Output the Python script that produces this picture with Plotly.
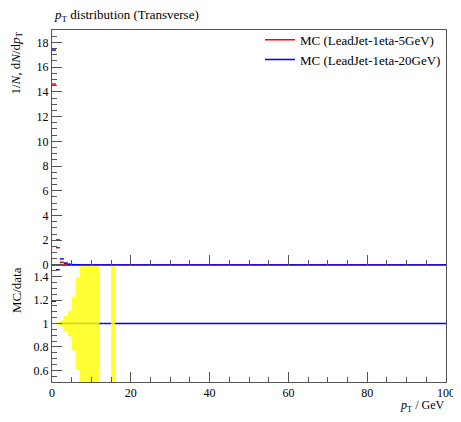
import plotly.graph_objects as go

# ---- data ----
bin_edges = [0, 1, 2, 3, 4, 5, 6, 7, 8, 9, 10, 11, 12, 13, 14, 15, 16, 100]
mc_5gev = [14.63, 1.40, 0.22, 0.08, 0.04, 0.02, 0.01, 0.01, 0.005, 0.005,
           0.004, 0.003, 0.0, 0.0, 0.0, 0.002, 0.0]
mc_20gev = [17.38, 2.02, 0.49, 0.16, 0.06, 0.03, 0.02, 0.01, 0.01, 0.008,
            0.005, 0.005, 0.003, 0.003, 0.002, 0.003, 0.001]
ratio_20gev = [1.19, 1.46, 1.0, 1.0, 1.0, 1.0, 1.0, 1.0, 1.0, 1.0,
               1.0, 1.0, 1.0, 1.0, 1.0, 1.0, 1.0]
band_halfwidth = [0.003, 0.01, 0.026, 0.065, 0.11, 0.23, 0.39, 1.0, 1.0, 1.0,
                  1.0, 1.0, None, None, None, 1.0, None]

x_ticks = [0, 20, 40, 60, 80, 100]
top_ticks = [0, 2, 4, 6, 8, 10, 12, 14, 16, 18]
ratio_ticks = [0.6, 0.8, 1.0, 1.2, 1.4]
ratio_tick_text = ["0.6", "0.8", "1", "1.2", "1.4"]

RED = "#ff0000"
BLUE = "#0000ff"
FONT = "Liberation Serif"
AXC = "#555555"

# page body adds an 8px margin; figure sized so the page fits the window exactly
W, H = 453, 406
ML, MR, MT, MB = 44, 15, 22, 32
PW = W - ML - MR
PH = H - MT - MB


def segments(edges, vals):
    xs, ys = [], []
    for i, v in enumerate(vals):
        if v is None:
            continue
        xs += [edges[i], edges[i + 1], None]
        ys += [v, v, None]
    return xs, ys


fig = go.Figure()

# main panel
x, y = segments(bin_edges, mc_5gev)
fig.add_trace(go.Scatter(x=x, y=y, mode="lines", line=dict(color=RED, width=1.5),
                         name="MC (LeadJet-1eta-5GeV)", xaxis="x2", yaxis="y2"))
x, y = segments(bin_edges, mc_20gev)
fig.add_trace(go.Scatter(x=x, y=y, mode="lines", line=dict(color=BLUE, width=1.5),
                         name="MC (LeadJet-1eta-20GeV)", xaxis="x2", yaxis="y2"))

# ratio panel
x, y = segments(bin_edges, ratio_20gev)
fig.add_trace(go.Scatter(x=x, y=y, mode="lines", line=dict(color=BLUE, width=1.5),
                         showlegend=False, xaxis="x", yaxis="y"))

# ratio band (reference uncertainty), drawn over the line
bx, by = [], []
for i, e in enumerate(band_halfwidth):
    if e is None:
        continue
    lo, hi = bin_edges[i], bin_edges[i + 1]
    bx += [lo, hi, hi, lo, lo, None]
    by += [1 - e, 1 - e, 1 + e, 1 + e, 1 - e, None]
fig.add_trace(go.Scatter(x=bx, y=by, mode="lines", fill="toself", line=dict(width=0),
                         fillcolor="rgba(255,255,0,0.8)", showlegend=False, hoverinfo="skip",
                         xaxis="x", yaxis="y"))

split = 117 / PH

common_axis = dict(showline=True, linecolor=AXC, linewidth=1, mirror=True,
                   ticks="inside", tickcolor=AXC, ticklen=10, tickwidth=1,
                   showgrid=False, zeroline=False, automargin=False,
                   tickfont=dict(family=FONT, size=12, color="black"))

fig.update_layout(
    width=W, height=H,
    margin=dict(l=ML, r=MR, t=MT, b=MB, autoexpand=False),
    paper_bgcolor="white", plot_bgcolor="white",
    font=dict(family=FONT, size=13, color="black"),
    xaxis=dict(domain=[0, 1], range=[0, 100], anchor="y", tickvals=x_ticks,
               minor=dict(ticks="inside", dtick=5, ticklen=5, tickcolor=AXC), **common_axis),
    xaxis2=dict(domain=[0, 1], range=[0, 100], anchor="y2", matches="x", tickvals=x_ticks,
                showticklabels=False,
                minor=dict(ticks="inside", dtick=5, ticklen=5, tickcolor=AXC), **common_axis),
    yaxis=dict(domain=[0, split], range=[0.5, 1.5], anchor="x", tickvals=ratio_ticks,
               ticktext=ratio_tick_text,
               minor=dict(ticks="inside", dtick=0.05, tick0=0.5, ticklen=5, tickcolor=AXC), **common_axis),
    yaxis2=dict(domain=[split, 1], range=[0, 19], anchor="x2", tickvals=top_ticks,
                minor=dict(ticks="inside", dtick=0.5, tick0=0, ticklen=5, tickcolor=AXC), **common_axis),
    legend=dict(x=1.0, xanchor="right", y=1.015, yanchor="top", bgcolor="rgba(0,0,0,0)",
                font=dict(family=FONT, size=13), tracegroupgap=0),
    annotations=[
        dict(text="<i>p</i><sub>T</sub> distribution (Transverse)", x=0, y=1 + 14 / PH,
             xref="paper", yref="paper", xanchor="left", yanchor="middle", showarrow=False,
             font=dict(family=FONT, size=13)),
        dict(text="1/<i>N</i>, d<i>N</i>/d<i>p</i><sub>T</sub>", x=-36 / PW, y=1,
             xref="paper", yref="paper", xanchor="center", yanchor="top", textangle=-90,
             showarrow=False, font=dict(family=FONT, size=13)),
        dict(text="MC/data", x=-36 / PW, y=split, xref="paper", yref="paper",
             xanchor="center", yanchor="top", textangle=-90, showarrow=False,
             font=dict(family=FONT, size=13)),
        dict(text="<i>p</i><sub>T</sub> / GeV", x=1, y=-24 / PH, xref="paper", yref="paper",
             xanchor="right", yanchor="middle", showarrow=False, font=dict(family=FONT, size=12)),
    ],
)

fig.write_html("out.html")
